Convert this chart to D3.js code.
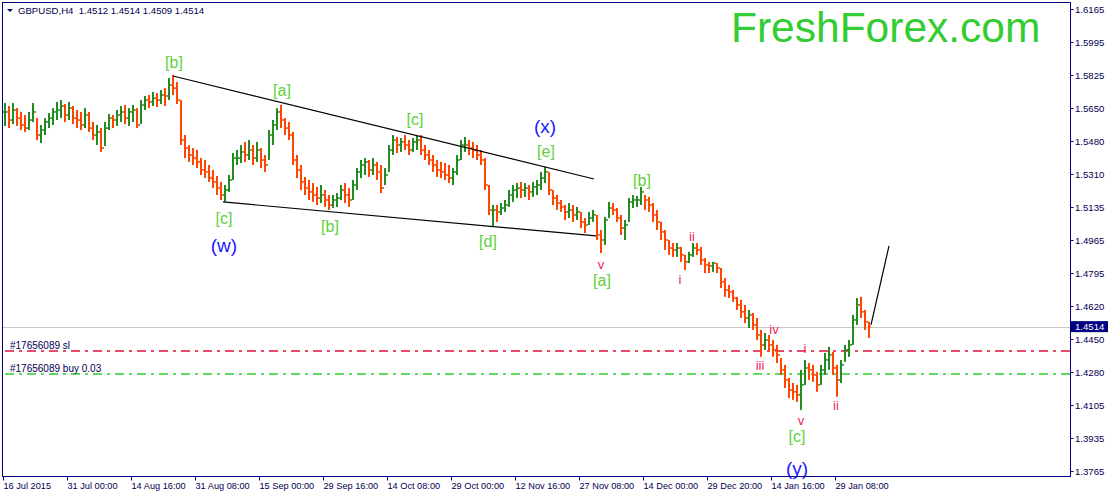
<!DOCTYPE html>
<html>
<head>
<meta charset="utf-8">
<script src="https://cdn.jsdelivr.net/npm/d3@7/dist/d3.min.js"></script>
<style>
  body { margin: 0; background: #fff; }
  text { font-family: "Liberation Sans", Arial, sans-serif; }
</style>
</head>
<body>
<div id="chart"></div>
<script>
const width = 1110;
const height = 494;

// GBPUSD H4, one entry per 4 bars (high / low / close)
const hi = [1.5677,1.5662,1.5677,1.5651,1.5631,1.5615,1.5631,1.5677,1.5599,1.5563,1.5599,1.5625,1.5651,1.5683,1.5693,1.5672,1.5683,1.5662,1.5641,1.5631,
  1.5651,1.5631,1.5579,1.5563,1.5547,1.5579,1.5620,1.5615,1.5641,1.5662,1.5667,1.5651,1.5667,1.5651,1.5693,1.5714,1.5719,1.5735,1.5729,1.5745,
  1.5755,1.5807,1.5823,1.5787,1.5693,1.5511,1.5459,1.5443,1.5433,1.5391,1.5381,1.5355,1.5329,1.5298,1.5267,1.5251,1.5303,1.5417,1.5433,1.5459,
  1.5475,1.5485,1.5459,1.5475,1.5443,1.5407,1.5537,1.5589,1.5651,1.5667,1.5599,1.5579,1.5527,1.5407,1.5355,1.5293,1.5277,1.5261,1.5241,1.5251,
  1.5225,1.5199,1.5199,1.5209,1.5251,1.5261,1.5235,1.5277,1.5339,1.5381,1.5391,1.5381,1.5391,1.5371,1.5355,1.5339,1.5459,1.5511,1.5501,1.5495,
  1.5511,1.5485,1.5495,1.5506,1.5511,1.5459,1.5433,1.5407,1.5381,1.5371,1.5365,1.5355,1.5339,1.5407,1.5485,1.5501,1.5485,1.5475,1.5459,1.5433,
  1.5391,1.5251,1.5147,1.5147,1.5157,1.5173,1.5225,1.5251,1.5261,1.5267,1.5261,1.5251,1.5267,1.5277,1.5319,1.5345,1.5319,1.5225,1.5199,1.5173,
  1.5147,1.5157,1.5147,1.5137,1.5111,1.5079,1.5111,1.5121,1.5095,1.5017,1.5085,1.5163,1.5157,1.5131,1.5095,1.5069,1.5183,1.5199,1.5194,1.5241,
  1.5199,1.5189,1.5157,1.5121,1.5059,1.5017,1.4965,1.4949,1.4949,1.4929,1.4887,1.4903,1.4949,1.4949,1.4929,1.4871,1.4851,1.4851,1.4845,1.4819,
  1.4767,1.4731,1.4705,1.4669,1.4653,1.4627,1.4601,1.4585,1.4559,1.4497,1.4481,1.4471,1.4445,1.4419,1.4351,1.4315,1.4247,1.4221,1.4211,1.4289,
  1.4341,1.4325,1.4315,1.4279,1.4315,1.4377,1.4409,1.4383,1.4315,1.4341,1.4419,1.4445,1.4575,1.4663,1.4669,1.4601,1.4539];
const lo = [1.5558,1.5547,1.5568,1.5558,1.5537,1.5527,1.5537,1.5579,1.5485,1.5469,1.5511,1.5547,1.5563,1.5589,1.5599,1.5579,1.5589,1.5568,1.5547,1.5537,
  1.5547,1.5527,1.5485,1.5459,1.5423,1.5454,1.5537,1.5547,1.5558,1.5579,1.5568,1.5558,1.5579,1.5547,1.5568,1.5641,1.5651,1.5662,1.5657,1.5672,
  1.5662,1.5693,1.5719,1.5672,1.5459,1.5391,1.5371,1.5355,1.5339,1.5303,1.5287,1.5267,1.5235,1.5199,1.5173,1.5163,1.5215,1.5277,1.5355,1.5365,
  1.5371,1.5381,1.5355,1.5371,1.5339,1.5319,1.5381,1.5459,1.5537,1.5547,1.5511,1.5485,1.5355,1.5287,1.5225,1.5199,1.5173,1.5163,1.5147,1.5157,
  1.5137,1.5121,1.5131,1.5137,1.5173,1.5157,1.5137,1.5173,1.5225,1.5287,1.5303,1.5293,1.5303,1.5277,1.5209,1.5251,1.5319,1.5407,1.5417,1.5423,
  1.5433,1.5407,1.5423,1.5433,1.5407,1.5381,1.5355,1.5319,1.5293,1.5287,1.5277,1.5261,1.5251,1.5303,1.5381,1.5423,1.5407,1.5391,1.5381,1.5355,
  1.5225,1.5095,1.5033,1.5059,1.5095,1.5111,1.5137,1.5163,1.5183,1.5183,1.5189,1.5173,1.5189,1.5199,1.5225,1.5261,1.5199,1.5147,1.5121,1.5111,
  1.5069,1.5079,1.5059,1.5069,1.5027,1.5001,1.5043,1.5059,1.4965,1.4897,1.4939,1.5079,1.5095,1.5059,1.4991,1.4965,1.5059,1.5131,1.5137,1.5147,
  1.5121,1.5111,1.5059,1.5017,1.4965,1.4913,1.4887,1.4877,1.4877,1.4851,1.4809,1.4845,1.4877,1.4887,1.4835,1.4793,1.4793,1.4799,1.4793,1.4715,
  1.4669,1.4663,1.4643,1.4601,1.4559,1.4533,1.4507,1.4497,1.4445,1.4357,1.4393,1.4383,1.4357,1.4325,1.4263,1.4195,1.4143,1.4133,1.4123,1.4081,
  1.4211,1.4237,1.4227,1.4175,1.4211,1.4263,1.4289,1.4263,1.4149,1.4221,1.4331,1.4357,1.4419,1.4523,1.4559,1.4497,1.4455];
const cl = [1.5631,1.5589,1.5641,1.5599,1.5563,1.5547,1.5589,1.5631,1.5511,1.5537,1.5579,1.5599,1.5631,1.5641,1.5662,1.5615,1.5651,1.5599,1.5589,1.5563,
  1.5615,1.5547,1.5511,1.5527,1.5443,1.5547,1.5599,1.5589,1.5615,1.5631,1.5599,1.5631,1.5641,1.5563,1.5667,1.5693,1.5683,1.5703,1.5693,1.5719,
  1.5714,1.5771,1.5755,1.5693,1.5485,1.5443,1.5407,1.5391,1.5371,1.5329,1.5319,1.5287,1.5267,1.5235,1.5199,1.5225,1.5277,1.5391,1.5391,1.5423,
  1.5407,1.5433,1.5391,1.5433,1.5381,1.5355,1.5511,1.5563,1.5631,1.5589,1.5547,1.5511,1.5381,1.5329,1.5267,1.5235,1.5215,1.5199,1.5183,1.5199,
  1.5173,1.5147,1.5173,1.5183,1.5225,1.5199,1.5173,1.5251,1.5319,1.5355,1.5371,1.5329,1.5355,1.5319,1.5235,1.5303,1.5433,1.5485,1.5459,1.5475,
  1.5459,1.5433,1.5475,1.5485,1.5433,1.5407,1.5381,1.5355,1.5329,1.5319,1.5303,1.5287,1.5319,1.5381,1.5459,1.5459,1.5443,1.5433,1.5407,1.5381,
  1.5251,1.5121,1.5121,1.5111,1.5131,1.5147,1.5199,1.5225,1.5235,1.5225,1.5235,1.5215,1.5241,1.5251,1.5287,1.5319,1.5225,1.5183,1.5157,1.5137,
  1.5111,1.5121,1.5095,1.5111,1.5059,1.5043,1.5079,1.5095,1.4991,1.4965,1.5069,1.5131,1.5121,1.5079,1.5027,1.5043,1.5163,1.5173,1.5173,1.5215,
  1.5173,1.5147,1.5095,1.5059,1.5007,1.4965,1.4923,1.4913,1.4923,1.4887,1.4851,1.4887,1.4923,1.4913,1.4861,1.4835,1.4830,1.4845,1.4819,1.4747,
  1.4705,1.4695,1.4663,1.4627,1.4591,1.4559,1.4575,1.4523,1.4471,1.4419,1.4445,1.4419,1.4393,1.4367,1.4289,1.4237,1.4185,1.4175,1.4159,1.4211,
  1.4299,1.4289,1.4263,1.4211,1.4289,1.4341,1.4367,1.4299,1.4237,1.4315,1.4393,1.4419,1.4549,1.4627,1.4591,1.4539,1.4514];
const barStep = 4;

// last bar shown in the header (open, high, low, close)
const lastBar = [1.4512, 1.4514, 1.4509, 1.4514];

const xTickBars = [0, 64, 128, 192, 256, 320, 384, 448, 512, 576, 640, 704, 768, 832];
const xTickLabels = ["16 Jul 2015", "31 Jul 00:00", "14 Aug 16:00", "31 Aug 08:00", "15 Sep 00:00", "29 Sep 16:00",
  "14 Oct 08:00", "29 Oct 00:00", "12 Nov 16:00", "27 Nov 08:00", "14 Dec 00:00", "29 Dec 20:00", "14 Jan 16:00", "29 Jan 08:00"];
const yTickValues = [1.6165, 1.5995, 1.5825, 1.5650, 1.5480, 1.5310, 1.5135, 1.4965, 1.4795, 1.4620, 1.4450, 1.4280, 1.4105, 1.3935, 1.3765];

// trendlines: [bar, price] pairs
const trendLines = [
  [[170, 1.5818], [591, 1.5282]],
  [[220, 1.5163], [593, 1.4986]],
  [[868, 1.4523], [886, 1.4934]]
];

// order levels
const orderLevels = [
  { name: "#17656089 sl", price: 1.4386, color: "#e0103c" },
  { name: "#17656089 buy 0.03", price: 1.4268, color: "#2ecc2e" }
];
const bidPrice = 1.4514;

// wave labels: text, bar, price, kind
const waveLabels = [
  ["[b]", 171, 1.5891, "g"], ["[a]", 279, 1.5745, "g"], ["[c]", 221, 1.5079, "g"], ["(w)", 221, 1.4939, "b"],
  ["[b]", 327, 1.5033, "g"], ["[c]", 412, 1.5594, "g"], ["[d]", 485, 1.4955, "g"], ["(x)", 542, 1.5558, "b"],
  ["[e]", 543, 1.5428, "g"], ["v", 598, 1.4840, "r"], ["[a]", 599, 1.4757, "g"], ["[b]", 639, 1.5277, "g"],
  ["ii", 689, 1.4981, "r"], ["i", 677, 1.4762, "r"], ["iv", 771, 1.4497, "r"], ["iii", 757, 1.4310, "r"],
  ["i", 802, 1.4398, "r"], ["v", 798, 1.4024, "r"], ["[c]", 794, 1.3941, "g"], ["ii", 833, 1.4102, "r"],
  ["(y)", 794, 1.3779, "b"]
];
const labelStyle = {
  g: { color: "#5fd13c", size: 16 },
  b: { color: "#1a1aff", size: 19 },
  r: { color: "#f0245a", size: 13 }
};

const navy = "#000080";
const plot = { left: 2.5, top: 2.5, right: 1070.5, bottom: 476.5 };

const svg = d3.select("#chart").append("svg")
    .attr("width", width)
    .attr("height", height)
    .style("display", "block");

const x = d3.scaleLinear()
    .domain([0, 1067])
    .range([3, 1070]);

const y = d3.scaleLinear()
    .domain([1.3737, 1.6203])
    .range([476, 2]);

const body = svg.append("g");

// bid line
body.append("line")
    .attr("x1", plot.left).attr("x2", plot.right)
    .attr("y1", Math.round(y(bidPrice)) + 0.5).attr("y2", Math.round(y(bidPrice)) + 0.5)
    .attr("stroke", "#c8c8c8");

// order lines
orderLevels.forEach(o => {
    const yy = Math.round(y(o.price));
    body.append("line")
        .attr("x1", 5).attr("x2", plot.right)
        .attr("y1", yy).attr("y2", yy)
        .attr("stroke", o.color)
        .attr("stroke-width", 1.4)
        .attr("stroke-dasharray", "9,5,3,5");
    body.append("text")
        .attr("x", 10)
        .attr("y", yy - 2.5)
        .attr("font-size", 10)
        .attr("fill", "#000050")
        .text(o.name);
});

// bars
const bars = hi.map((h, i) => ({
    i: i,
    high: h,
    low: lo[i],
    open: i > 0 ? cl[i - 1] : cl[i],
    close: cl[i]
}));

const colorOf = d => d.close >= d.open ? "#228b22" : "#ff4500";
const step = x(barStep) - x(0);

const barG = body.selectAll(".bar")
    .data(bars)
    .enter().append("g")
    .attr("class", "bar")
    .attr("fill", colorOf);

// high-low stem
barG.append("rect")
    .attr("x", d => x(d.i * barStep) + 1)
    .attr("width", step - 2)
    .attr("y", d => y(d.high))
    .attr("height", d => Math.max(1, y(d.low) - y(d.high)));

// open tick
barG.append("rect")
    .attr("x", d => x(d.i * barStep))
    .attr("width", 1)
    .attr("y", d => y(d.open) - 0.75)
    .attr("height", 1.5);

// close tick
barG.append("rect")
    .attr("x", d => x(d.i * barStep) + step - 1)
    .attr("width", 1)
    .attr("y", d => y(d.close) - 0.75)
    .attr("height", 1.5);

// trendlines
trendLines.forEach(t => {
    body.append("line")
        .attr("x1", x(t[0][0])).attr("y1", y(t[0][1]))
        .attr("x2", x(t[1][0])).attr("y2", y(t[1][1]))
        .attr("stroke", "#000")
        .attr("stroke-width", 1.2);
});

// wave labels
body.selectAll(".wave")
    .data(waveLabels)
    .enter().append("text")
    .attr("class", "wave")
    .attr("x", d => x(d[1]))
    .attr("y", d => y(d[2]))
    .attr("dy", "0.35em")
    .attr("text-anchor", "middle")
    .attr("font-size", d => labelStyle[d[3]].size)
    .attr("fill", d => labelStyle[d[3]].color)
    .text(d => d[0]);

// logo
svg.append("text")
    .attr("x", 731)
    .attr("y", 42)
    .attr("font-size", 42.5)
    .attr("fill", "#33cc33")
    .text("FreshForex.com");

// frame
svg.append("rect")
    .attr("x", plot.left).attr("y", plot.top)
    .attr("width", plot.right - plot.left)
    .attr("height", plot.bottom - plot.top)
    .attr("fill", "none")
    .attr("stroke", navy);

// header
svg.append("path")
    .attr("d", "M7,9 L13,9 L10,12 Z")
    .attr("fill", navy);
svg.append("text")
    .attr("x", 18)
    .attr("y", 14)
    .attr("font-size", 9.6)
    .attr("fill", "#000050")
    .attr("xml:space", "preserve")
    .text("GBPUSD,H4  " + lastBar.map(v => v.toFixed(4)).join(" "));

// price axis
const yAxis = svg.append("g");
yTickValues.forEach(v => {
    const yy = Math.round(y(v)) + 0.5;
    yAxis.append("line")
        .attr("x1", plot.right).attr("x2", plot.right + 3)
        .attr("y1", yy).attr("y2", yy)
        .attr("stroke", navy);
    yAxis.append("text")
        .attr("x", 1075)
        .attr("y", yy)
        .attr("dy", "0.35em")
        .attr("font-size", 9.6)
        .attr("fill", "#000050")
        .text(v.toFixed(4));
});

// bid price tag
const by = y(bidPrice);
yAxis.append("rect")
    .attr("x", 1071).attr("y", by - 5.5)
    .attr("width", 37).attr("height", 11)
    .attr("fill", navy);
yAxis.append("text")
    .attr("x", 1075)
    .attr("y", by)
    .attr("dy", "0.35em")
    .attr("font-size", 9.6)
    .attr("fill", "#fff")
    .text(bidPrice.toFixed(4));

// time axis
const xAxis = svg.append("g");
xTickBars.forEach((b, i) => {
    const xx = Math.round(x(b)) + 0.5;
    xAxis.append("line")
        .attr("x1", xx).attr("x2", xx)
        .attr("y1", plot.bottom).attr("y2", plot.bottom + 4)
        .attr("stroke", navy);
    xAxis.append("text")
        .attr("x", xx)
        .attr("y", 489)
        .attr("font-size", 9.2)
        .attr("fill", "#000050")
        .text(xTickLabels[i]);
});
</script>
</body>
</html>
